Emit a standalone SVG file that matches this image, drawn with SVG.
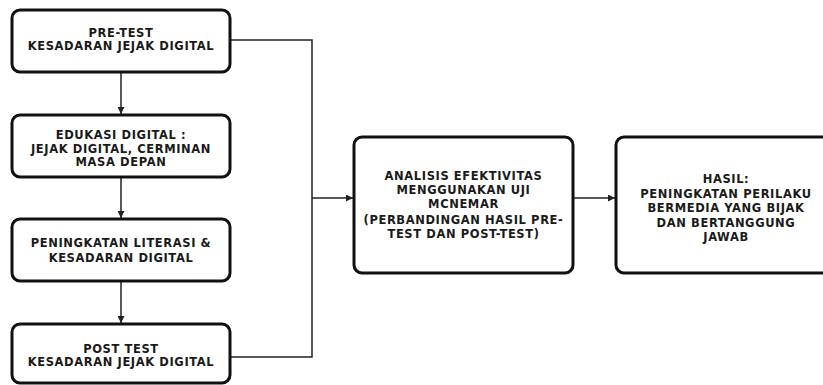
<svg xmlns="http://www.w3.org/2000/svg" width="823" height="385" viewBox="0 0 823 385">
<style>
.box{fill:#fff;stroke:#111;stroke-width:3}
.t{font-family:"DejaVu Sans","Liberation Sans",sans-serif;font-weight:700;font-size:11.5px;letter-spacing:0.6px;fill:#1a1a1a;text-anchor:middle}
.c{fill:none;stroke:#222;stroke-width:1.5}
</style>
<defs>
<marker id="ah" viewBox="0 0 10 10" refX="10" refY="5" markerWidth="7" markerHeight="7" markerUnits="userSpaceOnUse" orient="auto">
<path d="M0,0 L10,5 L0,10 z" fill="#222"/>
</marker>
</defs>
<rect width="823" height="385" fill="#fff"/>
<g id="connectors">
<line class="c" x1="121" y1="72" x2="121" y2="114" marker-end="url(#ah)"/>
<line class="c" x1="121" y1="177" x2="121" y2="218" marker-end="url(#ah)"/>
<line class="c" x1="121" y1="281" x2="121" y2="323" marker-end="url(#ah)"/>
<polyline class="c" points="230,40 312,40 312,357 230,357"/>
<line class="c" x1="312" y1="198" x2="353" y2="198" marker-end="url(#ah)"/>
<line class="c" x1="573" y1="198" x2="615" y2="198" marker-end="url(#ah)"/>
</g>
<g id="pretest">
<rect class="box" x="12" y="10" width="218" height="62" rx="8"/>
<text class="t" x="121" y="36.5">PRE-TEST</text>
<text class="t" x="121" y="50">KESADARAN JEJAK DIGITAL</text>
</g>
<g id="edukasi">
<rect class="box" x="12" y="115" width="218" height="62" rx="8"/>
<text class="t" x="121" y="139">EDUKASI DIGITAL :</text>
<text class="t" x="121" y="152.5">JEJAK DIGITAL, CERMINAN</text>
<text class="t" x="121" y="166">MASA DEPAN</text>
</g>
<g id="peningkatan">
<rect class="box" x="12" y="219" width="218" height="62" rx="8"/>
<text class="t" x="121" y="247">PENINGKATAN LITERASI &amp;</text>
<text class="t" x="121" y="261.5">KESADARAN DIGITAL</text>
</g>
<g id="posttest">
<rect class="box" x="12" y="324" width="218" height="59" rx="8"/>
<text class="t" x="121" y="352.5">POST TEST</text>
<text class="t" x="121" y="366">KESADARAN JEJAK DIGITAL</text>
</g>
<g id="analisis">
<rect class="box" x="354" y="137" width="219" height="136" rx="8"/>
<text class="t" x="463.5" y="180">ANALISIS EFEKTIVITAS</text>
<text class="t" x="463.5" y="194">MENGGUNAKAN UJI</text>
<text class="t" x="463.5" y="208">MCNEMAR</text>
<text class="t" x="463.5" y="224">(PERBANDINGAN HASIL PRE-</text>
<text class="t" x="463.5" y="238">TEST DAN POST-TEST)</text>
</g>
<g id="hasil">
<rect class="box" x="616" y="137" width="220" height="136" rx="8"/>
<text class="t" x="726" y="183">HASIL:</text>
<text class="t" x="726" y="197.5">PENINGKATAN PERILAKU</text>
<text class="t" x="726" y="212">BERMEDIA YANG BIJAK</text>
<text class="t" x="726" y="226.5">DAN BERTANGGUNG</text>
<text class="t" x="726" y="241">JAWAB</text>
</g>
</svg>
